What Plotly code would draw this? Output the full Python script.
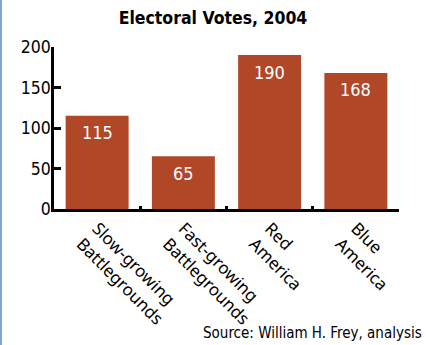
import plotly.graph_objects as go

categories = ["Slow-growing<br>Battlegrounds", "Fast-growing<br>Battlegrounds", "Red<br>America", "Blue<br>America"]
votes = [115, 65, 190, 168]
y_ticks = [0, 50, 100, 150, 200]

W, H = 426, 345
ml, mr, mt, mb = 54, 27, 47, 136
pw = W - ml - mr
COND = "DejaVu Sans Condensed"

fig = go.Figure(go.Bar(
    x=categories, y=votes,
    marker=dict(color="#B04726", line=dict(width=0)),
    cliponaxis=False,
))

for c, v in zip(categories, votes):
    fig.add_annotation(x=c, y=v, text=str(v), showarrow=False, yanchor="middle", yshift=-17,
                       font=dict(color="white", size=18, family=COND))

fig.update_layout(
    width=W, height=H,
    margin=dict(l=ml, r=mr, t=mt, b=mb),
    paper_bgcolor="white", plot_bgcolor="white",
    bargap=0.27,
    showlegend=False,
    title=dict(text="<b>Electoral Votes, 2004</b>", x=0.5, xanchor="center",
               y=1 - 18/H, yanchor="middle",
               font=dict(family=COND, size=17.5, color="black")),
    font=dict(family=COND, color="black"),
)

fig.update_yaxes(
    range=[0, 200], tickvals=y_ticks, showgrid=False, zeroline=False,
    showline=True, linecolor="black", linewidth=2.5,
    ticks="inside", ticklen=7, tickwidth=2.5, tickcolor="black",
    ticklabelstandoff=-3,
    tickfont=dict(family=COND, size=17.5, color="black"),
)
fig.update_xaxes(
    showgrid=False, showline=True, linecolor="black", linewidth=2.5,
    ticks="inside", tickson="boundaries", ticklen=3, tickwidth=2.5, tickcolor="black",
    tickangle=45,
    tickfont=dict(family="Noto Sans", size=17, color="black"),
)

fig.add_annotation(text="Source: William H. Frey, analysis", xref="paper", yref="paper",
                   x=1 + (mr - 2)/pw, xanchor="right", y=-(333 - (H - mb))/(H - mt - mb), yanchor="middle",
                   showarrow=False, font=dict(family=COND, size=15, color="black"))

fig.add_shape(type="line", xref="paper", yref="paper",
              x0=-(ml - 1)/pw, x1=-(ml - 1)/pw, y0=-mb/(H - mt - mb), y1=1 + mt/(H - mt - mb),
              line=dict(color="#7FA6D8", width=2))

fig.write_html("out.html")
